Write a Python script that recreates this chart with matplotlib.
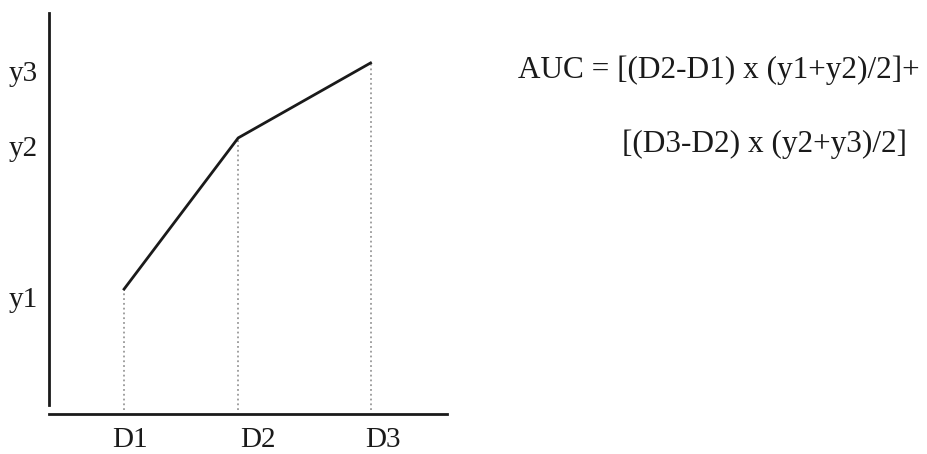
import numpy as np
import matplotlib
matplotlib.use('Agg')
import matplotlib.pyplot as plt
from matplotlib.transforms import ScaledTranslation

# 그림 속 값들 (도식이라 단위는 임의)
dose_labels = ['D1', 'D2', 'D3']
dose = [1.0, 2.0, 3.16]
resp_labels = ['y1', 'y2', 'y3']
resp = [1.0, 2.21, 2.81]
formula_1 = 'AUC = [(D2-D1) x (y1+y2)/2]+'
formula_2 = '[(D3-D2) x (y2+y3)/2]'

plt.rcParams['font.family'] = ['Liberation Serif', 'DejaVu Serif']

fig = plt.figure(figsize=(9.28, 4.54), dpi=100)
ax = fig.add_axes([0.0528, 0.0881, 0.4289, 0.8833])

ax.set_xlim(0.342, 3.83)
ax.set_ylim(0, 3.21)

# 점선 (각 점에서 x축까지)
ax.vlines(dose, 0.03, resp, colors='0.6', linestyles=':', lw=1.3)
# 곡선
ax.plot(dose, resp, color='#1a1a1a', lw=2)

# 축선은 따로 그림 - 왼쪽은 바닥에 안 닿음
for s in ax.spines.values():
    s.set_visible(False)
ax.plot([0, 0], [0.022, 1], transform=ax.transAxes, color='#1a1a1a', lw=2, clip_on=False)
ax.plot([0, 1], [0, 0], transform=ax.transAxes, color='#1a1a1a', lw=2, clip_on=False)

ax.set_xticks(dose, dose_labels)
ax.set_yticks(resp, resp_labels)
ax.tick_params(length=0, labelsize=21, colors='#1a1a1a')
ax.tick_params(axis='y', pad=8)
ax.tick_params(axis='x', pad=9)

# 라벨 위치 살짝 보정
for lab in ax.get_yticklabels():
    lab.set_transform(lab.get_transform() + ScaledTranslation(0, -8 / 100, fig.dpi_scale_trans))
for lab, dx in zip(ax.get_xticklabels(), [6, 20, 12]):
    lab.set_transform(lab.get_transform() + ScaledTranslation(dx / 100, 0, fig.dpi_scale_trans))

fig.text(518 / 928, 1 - 78 / 454, formula_1, fontsize=22.5, va='baseline', ha='left', color='#1a1a1a')
fig.text(622 / 928, 1 - 152 / 454, formula_2, fontsize=22.5, va='baseline', ha='left', color='#1a1a1a')

fig.savefig('out.png', dpi=100)
